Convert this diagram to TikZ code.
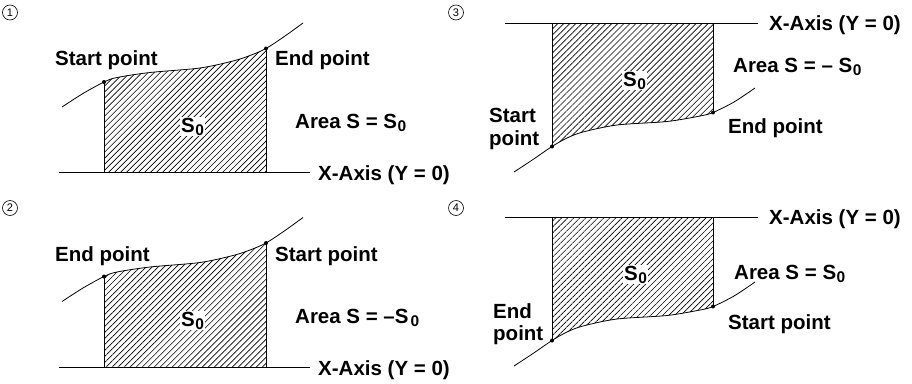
\documentclass[tikz,border=0pt]{standalone}
\usepackage{fontspec}
\setmainfont{Liberation Sans}
\usetikzlibrary{patterns.meta}

\tikzset{
  lbl/.style={font=\bfseries\fontsize{20.5}{24}\selectfont, inner sep=0pt, anchor=base west},
  num/.style={circle, draw, line width=0.6pt, minimum size=15pt, inner sep=0pt, font=\fontsize{11}{11}\selectfont},
  hatch/.style={pattern={Lines[angle=45,distance=4.25pt,line width=0.65pt]}},
  curveline/.style={line width=0.8pt},
  axisline/.style={line width=0.8pt},
  sideline/.style={line width=0.8pt},
  dotmark/.style={circle, fill=black, inner sep=0pt, minimum size=4pt},
  areaname/.style={font=\bfseries\fontsize{20.5}{24}\selectfont, fill=white, inner sep=1pt, anchor=base west},
}

\newcommand\Szero{S\kern0.5pt\raisebox{-3pt}{\fontsize{15.5}{15}\selectfont 0}}

% rising curve above axis (panels 1 and 2)
\newcommand\upperpanel[2]{%
  \begin{scope}[shift={(0,#2)}]
    \coordinate (#1a0) at (59,172.5);
    \coordinate (#1a1) at (310,172.5);
    \coordinate (#1b0) at (104,172.5);
    \coordinate (#1b1) at (266,172.5);
    \coordinate (#1p) at (104,82);
    \coordinate (#1q) at (266,48.5);
    \begin{scope}
      \clip (104,0) rectangle (266,172.5);
      \fill[hatch] plot[smooth] coordinates {(62,107) (83,93.5) (104,82) (117,77.5) (150,72.5) (200,68) (233,61) (250,55.5) (266,48.5) (285,36) (303,23)} -- (303,172.5) -- (62,172.5) -- cycle;
    \end{scope}
    \draw[curveline] plot[smooth] coordinates {(62,107) (83,93.5) (104,82) (117,77.5) (150,72.5) (200,68) (233,61) (250,55.5) (266,48.5) (285,36) (303,23)};
    \draw[axisline] (#1a0) -- (#1a1);
    \draw[sideline] (#1p) -- (#1b0);
    \draw[sideline] (#1q) -- (#1b1);
    \node[dotmark] (#1dp) at (#1p) {};
    \node[dotmark] (#1dq) at (#1q) {};
  \end{scope}}

% curve below axis (panels 3 and 4)
\newcommand\lowerpanel[2]{%
  \begin{scope}[shift={(0,#2)}]
    \coordinate (#1a0) at (505,23);
    \coordinate (#1a1) at (758,23);
    \coordinate (#1b0) at (552,23);
    \coordinate (#1b1) at (713,23);
    \coordinate (#1p) at (552,146.5);
    \coordinate (#1q) at (713,112.5);
    \begin{scope}
      \clip (552,23) rectangle (713,200);
      \fill[hatch] plot[smooth] coordinates {(514,172) (533,159.5) (552,146.5) (567,138) (583,132) (617,125) (667,121.5) (700,116) (713,112.5) (734,102) (755,88)} -- (755,23) -- (514,23) -- cycle;
    \end{scope}
    \draw[curveline] plot[smooth] coordinates {(514,172) (533,159.5) (552,146.5) (567,138) (583,132) (617,125) (667,121.5) (700,116) (713,112.5) (734,102) (755,88)};
    \draw[axisline] (#1a0) -- (#1a1);
    \draw[sideline] (#1p) -- (#1b0);
    \draw[sideline] (#1q) -- (#1b1);
    \node[dotmark] (#1dp) at (#1p) {};
    \node[dotmark] (#1dq) at (#1q) {};
  \end{scope}}

\begin{document}
\begin{tikzpicture}[x=1pt,y=-1pt]
  \useasboundingbox[fill=white] (0,0) rectangle (912,383);

  \upperpanel{A}{0}
  \upperpanel{B}{194.5}
  \lowerpanel{C}{0}
  \lowerpanel{D}{194}

  % circled numbers
  \node[num] (n1) at (10,12.5) {1};
  \node[num] (n2) at (10,208) {2};
  \node[num] (n3) at (456,12.5) {3};
  \node[num] (n4) at (456,208) {4};

  % panel 1
  \node[lbl] (A1) at (55,65) {Start point};
  \node[lbl] (A2) at (275,65) {End point};
  \node[lbl] (A3) at (295,128) {Area S = \Szero};
  \node[lbl] (A4) at (318,180) {X-Axis (Y = 0)};
  \node[areaname] (A5) at (180,132) {\Szero};

  % panel 2
  \node[lbl] (B1) at (55,261) {End point};
  \node[lbl] (B2) at (275,261) {Start point};
  \node[lbl] (B3) at (295,323) {Area S = –S\kern2pt\raisebox{-3pt}{\fontsize{15.5}{15}\selectfont 0}};
  \node[lbl] (B4) at (318,375) {X-Axis (Y = 0)};
  \node[areaname] (B5) at (180,326) {\Szero};

  % panel 3
  \node[lbl] (C1) at (769,30) {X-Axis (Y = 0)};
  \node[lbl] (C2) at (733,72) {Area S = – \Szero};
  \node[areaname] (C3) at (622,86) {\Szero};
  \node[lbl] (C4) at (489,122) {Start};
  \node[lbl] (C5) at (489,145) {point};
  \node[lbl] (C6) at (728,133) {End point};

  % panel 4
  \node[lbl] (D1) at (769,224) {X-Axis (Y = 0)};
  \node[lbl] (D2) at (734,279) {Area S = \Szero};
  \node[areaname] (D3) at (623,280) {\Szero};
  \node[lbl] (D4) at (493,318) {End};
  \node[lbl] (D5) at (493,340) {point};
  \node[lbl] (D6) at (728,329) {Start point};
\end{tikzpicture}
\end{document}
